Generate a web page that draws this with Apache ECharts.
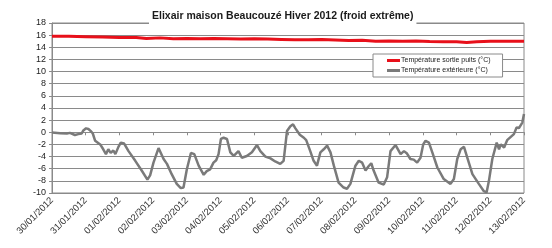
<!DOCTYPE html>
<html><head><meta charset="utf-8">
<script src="https://cdn.jsdelivr.net/npm/echarts@6/dist/echarts.min.js"></script>
<style>html,body{margin:0;padding:0;background:#fff}#c{width:552px;height:248px}</style>
</head><body><div id="c"></div>
<script>
var titleText = 'Elixair maison Beaucouzé Hiver 2012 (froid extrême)';
var dateLabels = ['30/01/2012','31/01/2012','01/02/2012','02/02/2012','03/02/2012','04/02/2012','05/02/2012','06/02/2012','07/02/2012','08/02/2012','09/02/2012','10/02/2012','11/02/2012','12/02/2012','13/02/2012'];
var yTicks = [-10,-8,-6,-4,-2,0,2,4,6,8,10,12,14,16,18];
var seriesNames = ['Température sortie puits (°C)', 'Température extérieure (°C)'];

// days since 30/01/2012 00:00
var puitsDays = [0,0.5,1,1.5,2,2.5,2.8,3.2,3.6,4,4.4,4.8,5.2,5.6,6,6.4,6.8,7.2,7.6,8,8.4,8.8,9.2,9.6,10,10.4,10.8,11.2,11.6,12,12.3,12.6,13,13.5,14];
var puitsTemp = [15.8,15.8,15.75,15.7,15.6,15.6,15.45,15.55,15.4,15.45,15.4,15.45,15.4,15.35,15.4,15.35,15.3,15.25,15.25,15.3,15.2,15.1,15.15,15.0,15.05,15.0,15.05,14.95,14.9,14.9,14.8,14.9,15.0,15.0,15.0];

var extDays = [0.00,0.24,0.44,0.53,0.68,0.78,0.88,0.93,1.01,1.08,1.15,1.21,1.28,1.43,1.52,1.60,1.67,1.74,1.82,1.88,1.97,2.04,2.14,2.27,2.47,2.66,2.83,2.91,3.01,3.16,3.31,3.41,3.55,3.70,3.82,3.90,4.00,4.12,4.22,4.35,4.50,4.59,4.69,4.79,4.87,4.94,5.01,5.09,5.19,5.29,5.39,5.53,5.63,5.78,5.93,6.08,6.18,6.33,6.48,6.62,6.77,6.87,6.97,7.07,7.15,7.22,7.35,7.47,7.54,7.66,7.76,7.86,7.96,8.06,8.16,8.26,8.36,8.50,8.65,8.75,8.85,9.00,9.10,9.20,9.30,9.39,9.47,9.54,9.69,9.84,9.94,10.04,10.19,10.34,10.44,10.53,10.63,10.73,10.83,10.93,11.01,11.08,11.18,11.28,11.43,11.62,11.82,11.92,12.02,12.12,12.22,12.32,12.47,12.66,12.81,12.89,12.96,13.06,13.19,13.26,13.31,13.41,13.50,13.60,13.70,13.78,13.85,13.95,14.00];
var extTemp = [-0.05,-0.15,-0.2,-0.1,-0.45,-0.3,-0.2,0.3,0.65,0.55,0.2,-0.2,-1.4,-2.0,-2.8,-3.6,-2.8,-3.4,-3.0,-3.6,-2.4,-1.7,-1.85,-3.1,-4.7,-6.3,-7.8,-7.1,-5.0,-2.6,-4.4,-5.2,-6.9,-8.5,-9.2,-9.1,-6.1,-3.4,-3.6,-5.5,-7.0,-6.4,-6.1,-5.0,-4.6,-3.6,-1.1,-0.9,-1.1,-3.3,-3.9,-3.1,-4.2,-3.9,-3.3,-2.1,-3.1,-4.0,-4.3,-4.8,-5.2,-4.7,0.2,1.0,1.3,0.65,-0.4,-0.9,-1.3,-3.1,-4.7,-5.5,-3.3,-2.8,-2.2,-3.3,-5.5,-8.3,-9.1,-9.3,-8.5,-5.5,-4.7,-5.0,-6.3,-5.6,-5.1,-6.3,-8.3,-8.6,-7.4,-3.1,-2.1,-3.6,-3.1,-3.5,-4.4,-4.5,-5.0,-4.2,-2.0,-1.4,-1.7,-3.3,-5.8,-7.7,-8.5,-7.7,-4.4,-2.8,-2.4,-4.2,-6.9,-8.5,-9.7,-9.9,-8.0,-4.4,-1.7,-2.8,-2.0,-2.5,-1.3,-0.8,-0.3,0.8,0.7,1.6,3.0];

function pairs(xs, ys){ return xs.map(function(x,i){ return [x, ys[i]]; }); }

var chart = echarts.init(document.getElementById('c'), null, {renderer:'canvas'});
chart.setOption({
  animation: false,
  backgroundColor: '#fff',
  textStyle: {fontFamily: 'Liberation Sans, Arial, sans-serif'},
  title: {
    text: titleText,
    left: 149, top: 10,
    padding: [1, 3, 3, 3],
    backgroundColor: '#fff',
    textStyle: {fontSize: 10.5, fontWeight: 'bold', color: '#1a1a1a', fontFamily: 'Liberation Sans, Arial, sans-serif'}
  },
  legend: {
    orient: 'vertical',
    left: 373, top: 54,
    padding: [3, 12, 3, 14],
    itemGap: 3,
    itemWidth: 13, itemHeight: 3,
    backgroundColor: '#fff',
    borderColor: '#8a8a8a', borderWidth: 1,
    textStyle: {fontSize: 7, color: '#222', padding: [0,0,0,-4]},
    data: [{name: seriesNames[0], icon: 'rect'}, {name: seriesNames[1], icon: 'rect'}]
  },
  grid: {left: 52, right: 28, top: 23, bottom: 55, show: true, borderColor: '#8a8a8a', borderWidth: 1, containLabel: false},
  xAxis: {
    type: 'value', min: 0, max: 14, interval: 1,
    axisLine: {show: true, lineStyle: {color: '#8a8a8a'}},
    axisTick: {show: true, length: 3, lineStyle: {color: '#8a8a8a'}},
    splitLine: {show: false},
    axisLabel: {rotate: 45, fontSize: 9.5, color: '#333', margin: 6,
      formatter: function(v){ return dateLabels[Math.round(v)] || ''; }}
  },
  yAxis: {
    type: 'value', min: yTicks[0], max: yTicks[yTicks.length-1], interval: 2,
    axisLine: {show: true, lineStyle: {color: '#8a8a8a'}},
    axisTick: {show: true, length: 3, lineStyle: {color: '#8a8a8a'}},
    splitLine: {show: true, lineStyle: {color: '#8a8a8a', width: 1}},
    axisLabel: {fontSize: 9, color: '#222', margin: 6}
  },
  series: [
    {name: seriesNames[0], type: 'line', data: pairs(puitsDays, puitsTemp), symbol: 'none', z: 3,
      lineStyle: {color: '#e8101a', width: 3}, itemStyle: {color: '#e8101a'}},
    {name: seriesNames[1], type: 'line', data: pairs(extDays, extTemp), symbol: 'none', z: 2,
      lineStyle: {color: '#7a7a7a', width: 2.5}, itemStyle: {color: '#7a7a7a'}}
  ]
});
</script></body></html>
